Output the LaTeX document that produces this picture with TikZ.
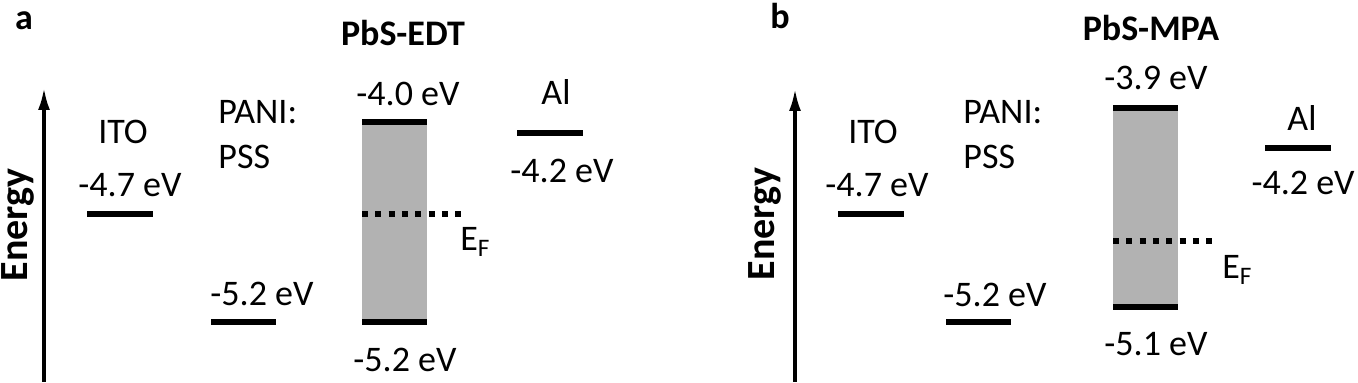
\documentclass[tikz,border=0pt]{standalone}
\usepackage{fontspec}
\setmainfont{Carlito}
\usetikzlibrary{arrows.meta}

\tikzset{
    lbl/.style={inner sep=0pt, font=\fontsize{18}{20}\selectfont},
    tag/.style={inner sep=0pt, font=\bfseries\fontsize{18}{20}\selectfont},
    axislabel/.style={inner sep=0pt, rotate=90, font=\bfseries\fontsize{20}{22}\selectfont},
    level/.style={line width=3pt},
    fermi/.style={line width=3pt, dash pattern=on 3pt off 3.65pt},
    gap/.style={fill=black!30},
    energyaxis/.style={line width=1.6pt, -{Latex[length=11pt,width=6pt]}}
}

\begin{document}
\begin{tikzpicture}[x=0.5pt, y=-0.5pt]
    \useasboundingbox (0,0) rectangle (1358,383);

    % Panel a: PbS-EDT
    \node[tag] (a-tag) at (24,21) {a};
    \node[tag] (a-title) at (403,33) {PbS-EDT};
    \coordinate (a-base) at (44,382);
    \coordinate (a-top) at (44,88);
    \draw[energyaxis] (a-base) -- (a-top);
    \node[axislabel] (a-energy) at (18,225) {Energy};

    \node[lbl] (a-ito) at (123,132) {ITO};
    \node[lbl] (a-ito-val) at (130,185) {-4.7 eV};
    \draw[level] (87,214) -- (153,214);

    \node[lbl, anchor=west] (a-pani) at (218,112) {PANI:};
    \node[lbl, anchor=west] (a-pss) at (218,157) {PSS};
    \node[lbl] (a-pani-val) at (262,294) {-5.2 eV};
    \draw[level] (211,322) -- (276,322);

    \fill[gap] (362,122) rectangle (427,322);
    \draw[level] (362,122) -- (427,122);
    \draw[level] (362,322) -- (427,322);
    \node[lbl] (a-cb) at (408,94) {-4.0 eV};
    \node[lbl] (a-vb) at (405,360) {-5.2 eV};
    \draw[fermi] (362,214.5) -- (462,214.5);
    \node[lbl, anchor=west] (a-ef) at (460,242) {E\textsubscript{F}};

    \node[lbl] (a-al) at (556,92) {Al};
    \draw[level] (517,133) -- (583,133);
    \node[lbl] (a-al-val) at (562,171) {-4.2 eV};

    % Panel b: PbS-MPA
    \node[tag] (b-tag) at (780,16) {b};
    \node[tag] (b-title) at (1151,28) {PbS-MPA};
    \coordinate (b-base) at (795,382);
    \coordinate (b-top) at (795,89);
    \draw[energyaxis] (b-base) -- (b-top);
    \node[axislabel] (b-energy) at (765,224) {Energy};

    \node[lbl] (b-ito) at (873,132) {ITO};
    \node[lbl] (b-ito-val) at (877,185) {-4.7 eV};
    \draw[level] (838,214) -- (904,214);

    \node[lbl, anchor=west] (b-pani) at (963,112) {PANI:};
    \node[lbl, anchor=west] (b-pss) at (963,157) {PSS};
    \node[lbl] (b-pani-val) at (995,295) {-5.2 eV};
    \draw[level] (946,322) -- (1011,322);

    \fill[gap] (1113,108) rectangle (1178,307);
    \draw[level] (1113,108) -- (1178,108);
    \draw[level] (1113,307) -- (1178,307);
    \node[lbl] (b-cb) at (1156,78) {-3.9 eV};
    \node[lbl] (b-vb) at (1156,344) {-5.1 eV};
    \draw[fermi] (1113,241) -- (1213,241);
    \node[lbl, anchor=west] (b-ef) at (1222,270) {E\textsubscript{F}};

    \node[lbl] (b-al) at (1302,118) {Al};
    \draw[level] (1265,148) -- (1331,148);
    \node[lbl, anchor=east] (b-al-val) at (1355,183) {-4.2 eV};
\end{tikzpicture}
\end{document}
